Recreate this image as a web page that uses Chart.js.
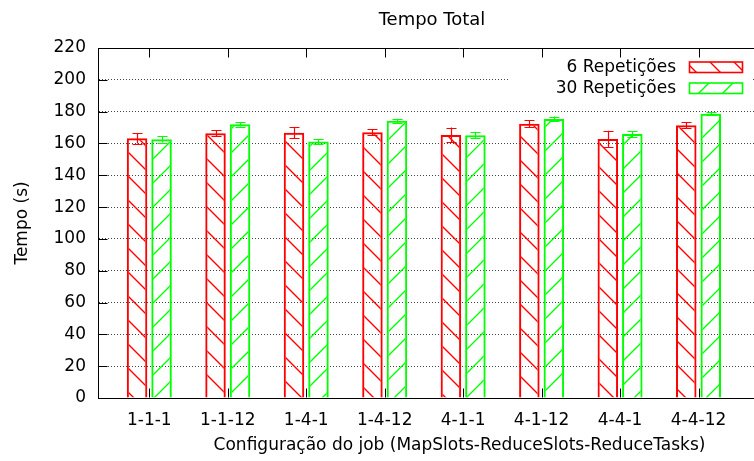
<!DOCTYPE html>
<html><head><meta charset="utf-8">
<script src="https://cdn.jsdelivr.net/npm/chart.js@4/dist/chart.umd.min.js"></script>
<style>
html,body{margin:0;padding:0;background:#fff;overflow:hidden}
#wrap{width:754px;height:461px;overflow:hidden;position:relative;background:#fff}
canvas{display:block}
</style></head>
<body><div id="wrap"><canvas id="c" width="864" height="461"></canvas></div>
<script>
const chartTitle = 'Tempo Total';
const xTitle = 'Configuração do job (MapSlots-ReduceSlots-ReduceTasks)';
const yTitle = 'Tempo (s)';
const categories = ['1-1-1', '1-1-12', '1-4-1', '1-4-12', '4-1-1', '4-1-12', '4-4-1', '4-4-12'];
const seriesNames = ['6 Repetições', '30 Repetições'];
const rep6 = [163.2, 166.4, 166.8, 167.0, 165.3, 172.4, 162.8, 171.4];
const rep6Err = [3.3, 2.0, 3.5, 1.8, 4.7, 2.1, 5.2, 1.9];
const rep30 = [162.6, 172.0, 161.3, 174.3, 165.1, 175.4, 165.9, 178.7];
const rep30Err = [2.0, 1.4, 1.5, 1.3, 1.9, 1.5, 2.0, 1.0];
const yTicks = [0, 20, 40, 60, 80, 100, 120, 140, 160, 180, 200, 220];

const FONT = {family: "'DejaVu Sans', sans-serif", size: 17, weight: 'normal', lineHeight: 1.2};
const TFONT = {family: "'DejaVu Sans', sans-serif", size: 18, weight: 'normal', lineHeight: 1.2};
const canvas = document.getElementById('c');
const mainCtx = canvas.getContext('2d');

function hatch(color, dir) {
  const s = 24;
  const c = document.createElement('canvas');
  c.width = s; c.height = s;
  const g = c.getContext('2d');
  g.strokeStyle = color; g.lineWidth = 1.4;
  g.beginPath();
  for (const k of [-1, 0, 1]) {
    if (dir === 'back') { g.moveTo(k * s - 1, -1); g.lineTo(k * s + s + 1, s + 1); }
    else { g.moveTo(k * s - 1, s + 1); g.lineTo(k * s + s + 1, -1); }
  }
  g.stroke();
  return mainCtx.createPattern(c, 'repeat');
}

const RED = '#ff0000', GREEN = '#00ff00';

const errorBars = {
  id: 'errorBars',
  afterDatasetsDraw(chart) {
    const ctx = chart.ctx, ys = chart.scales.y;
    chart.data.datasets.forEach((ds, di) => {
      const meta = chart.getDatasetMeta(di);
      ctx.save();
      ctx.strokeStyle = ds.borderColor; ctx.lineWidth = 1.2;
      meta.data.forEach((el, i) => {
        const v = ds.data[i].y, e = ds.errors[i];
        const x = Math.round(el.x) + 0.5;
        const yt = ys.getPixelForValue(v + e), yb = ys.getPixelForValue(v - e);
        ctx.beginPath();
        ctx.moveTo(x, yt); ctx.lineTo(x, yb);
        ctx.moveTo(x - 5, Math.round(yt) + 0.5); ctx.lineTo(x + 5, Math.round(yt) + 0.5);
        ctx.moveTo(x - 5, Math.round(yb) + 0.5); ctx.lineTo(x + 5, Math.round(yb) + 0.5);
        ctx.stroke();
      });
      ctx.restore();
    });
  }
};

const gnuKey = {
  id: 'gnuKey',
  afterDatasetsDraw(chart) {
    const ctx = chart.ctx;
    ctx.save();
    ctx.fillStyle = '#fff';
    ctx.fillRect(510, 53, 242, 46);
    ctx.font = "17px 'DejaVu Sans', sans-serif";
    ctx.textAlign = 'right'; ctx.textBaseline = 'middle';
    chart.data.datasets.forEach((ds, i) => {
      const cy = 67 + 21 * i;
      ctx.fillStyle = '#000';
      ctx.fillText(ds.label, 676, cy + 1);
      ctx.fillStyle = ds.backgroundColor;
      ctx.fillRect(689.5, cy - 5, 53, 10.5);
      ctx.strokeStyle = ds.borderColor; ctx.lineWidth = 1.6;
      ctx.strokeRect(689.5, cy - 5, 53, 10.5);
    });
    ctx.restore();
  }
};

const frameTicks = {
  id: 'frameTicks',
  afterDraw(chart) {
    const ctx = chart.ctx, a = chart.chartArea, xs = chart.scales.x, ys = chart.scales.y;
    const L = Math.round(a.left) + 0.5, R = Math.round(a.right) - 0.5;
    const T = Math.round(a.top) + 0.5, B = Math.round(a.bottom) - 0.5;
    ctx.save();
    ctx.strokeStyle = '#000'; ctx.lineWidth = 1;
    ctx.beginPath();
    ctx.moveTo(L, T); ctx.lineTo(R, T); ctx.lineTo(R, B);
    ys.ticks.forEach(t => {
      const y = Math.round(ys.getPixelForValue(t.value)) + 0.5;
      ctx.moveTo(L, y); ctx.lineTo(L + 9, y);
      ctx.moveTo(R, y); ctx.lineTo(R - 9, y);
    });
    xs.ticks.forEach(t => {
      const x = Math.round(xs.getPixelForValue(t.value)) + 0.5;
      ctx.moveTo(x, B); ctx.lineTo(x, B - 9);
      ctx.moveTo(x, T); ctx.lineTo(x, T + 9);
    });
    ctx.stroke();
    ctx.restore();
  }
};

new Chart(canvas, {
  type: 'bar',
  data: {
    datasets: [
      {label: seriesNames[0], data: rep6.map((v, i) => ({x: i, y: v})), errors: rep6Err,
       backgroundColor: hatch(RED, 'back'), borderColor: RED, borderWidth: 2},
      {label: seriesNames[1], data: rep30.map((v, i) => ({x: i, y: v})), errors: rep30Err,
       backgroundColor: hatch(GREEN, 'fwd'), borderColor: GREEN, borderWidth: 2}
    ]
  },
  options: {
    responsive: false,
    devicePixelRatio: 1,
    animation: false,
    categoryPercentage: 0.6245,
    barPercentage: 0.837,
    layout: {padding: 0},
    plugins: {
      legend: {display: false},
      tooltip: {enabled: false},
      title: {display: true, text: chartTitle, font: TFONT, color: '#000', padding: {top: 9.6, bottom: 16.8}}
    },
    scales: {
      x: {
        type: 'linear', min: -0.654, max: 8.561, offset: false,
        afterBuildTicks: s => { s.ticks = categories.map((_, i) => ({value: i})); },
        ticks: {callback: v => categories[v], font: FONT, color: '#000', padding: 12.5, maxRotation: 0, autoSkip: false},
        grid: {display: false, drawTicks: false},
        border: {display: true, color: '#000', width: 1},
        title: {display: true, text: xTitle, font: FONT, color: '#000', padding: {top: 0, bottom: 5}},
        afterFit: s => { s.height = 63; }
      },
      y: {
        min: 0, max: 220,
        afterBuildTicks: s => { s.ticks = yTicks.map(v => ({value: v})); },
        ticks: {font: FONT, color: '#000', padding: 12},
        grid: {drawTicks: false, lineWidth: 1,
               color: c => (c.tick && (c.tick.value === 0 || c.tick.value === 220)) ? 'rgba(0,0,0,0)' : '#444'},
        border: {display: true, color: '#000', width: 1, dash: [1, 2]},
        title: {display: true, text: yTitle, font: FONT, color: '#000', padding: {top: 12, bottom: 0}},
        afterFit: s => { s.width = 98; }
      },
      yRight: {
        position: 'right', min: 0, max: 220,
        ticks: {display: false},
        grid: {display: false, drawTicks: false},
        border: {display: false},
        afterFit: s => { s.width = 43; }
      }
    }
  },
  plugins: [errorBars, gnuKey, frameTicks]
});
</script>
</body></html>
